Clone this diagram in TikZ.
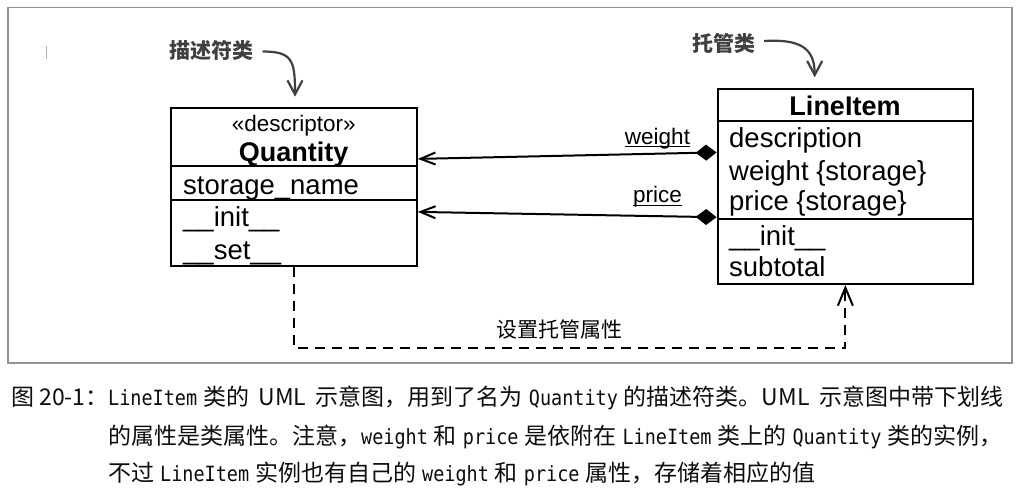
\documentclass[tikz,border=0pt]{standalone}
\usepackage{fontspec}
\setmainfont{Liberation Sans}
\newfontfamily\cjk{Noto Sans CJK SC}
\newfontfamily\cmono[FakeStretch=0.88]{DejaVu Sans Mono}
\usetikzlibrary{arrows.meta,calc}
\newcommand\gp{\hspace{6pt}}
\newcommand\gu{\hspace{9.5pt}}
\newcommand\cd[1]{{\cmono\fontsize{21}{24}\selectfont #1}}
\begin{document}
\begin{tikzpicture}[x=1pt,y=-1pt,
  umlbox/.style={draw, line width=2.2pt, inner sep=0pt},
  divider/.style={line width=2.2pt},
  boxtxt/.style={font=\fontsize{27.5}{30}\selectfont, inner sep=0pt, anchor=base west},
  boxtitle/.style={font=\fontsize{27}{30}\selectfont\bfseries, inner sep=0pt, anchor=base},
  stereo/.style={font=\fontsize{22.5}{26}\selectfont, inner sep=0pt, anchor=base},
  lbl/.style={font=\fontsize{22.5}{26}\selectfont, inner sep=0pt, anchor=base},
  uline/.style={line width=1.3pt},
  assoc/.style={line width=2pt, {Diamond[length=21pt,width=16pt]}-{Straight Barb[length=15pt,width=12pt]}},
  dep/.style={line width=2pt, dash pattern=on 10pt off 7pt, -{Straight Barb[length=18pt,width=15pt]}},
  ann/.style={font=\cjk\bfseries\fontsize{21}{24}\selectfont, text=black!75, inner sep=0pt},
  annarrow/.style={draw=black!75, line width=2.2pt, -{Straight Barb[length=14pt,width=15pt]}},
  deplbl/.style={font=\cjk\fontsize{21}{24}\selectfont, inner sep=0pt},
  captxt/.style={font=\cjk\fontsize{23}{26}\selectfont, text=black!95, inner sep=0pt, anchor=base west}
]
\useasboundingbox (0,0) rectangle (1023,493);
\fill[white] (0,0) rectangle (1023,493);
% frame
\draw[gray!85, line width=1.2pt] (8,7.5) rectangle (1012,363);
\draw[gray!60, line width=1pt] (46,46) -- (46,59);

% Quantity box
\node[umlbox, minimum width=246pt, minimum height=158pt] (qbox) at (293.7,187) {};
\draw[divider] ($(qbox.north west)+(0,59)$) -- ($(qbox.north east)+(0,59)$);
\draw[divider] ($(qbox.north west)+(0,93)$) -- ($(qbox.north east)+(0,93)$);
\node[stereo] (qst) at (293.7,131.7) {«descriptor»};
\node[boxtitle] (qname) at (293.7,161) {Quantity};
\node[boxtxt] (qattr) at (183,194.3) {storage\_name};
\node[boxtxt] (qinit) at (183,226.7) {\_\_init\_\_};
\node[boxtxt] (qset) at (183,259.3) {\_\_set\_\_};

% LineItem box
\node[umlbox, minimum width=255.3pt, minimum height=194.7pt] (lbox) at (845.35,186.65) {};
\draw[divider] ($(lbox.north west)+(0,32.4)$) -- ($(lbox.north east)+(0,32.4)$);
\draw[divider] ($(lbox.north west)+(0,130.7)$) -- ($(lbox.north east)+(0,130.7)$);
\node[boxtitle] (lname) at (845,115) {LineItem};
\node[boxtxt] (ldesc) at (729,147.3) {description};
\node[boxtxt] (lwt) at (729,180) {weight \{storage\}};
\node[boxtxt] (lpr) at (729,210.7) {price \{storage\}};
\node[boxtxt] (linit) at (729,245.7) {\_\_init\_\_};
\node[boxtxt] (lsub) at (729,276.7) {subtotal};

% associations
\coordinate (wA) at ($(lbox.north west)+(0,64.2)$);
\coordinate (wB) at ($(qbox.north east)+(0,52)$);
\coordinate (pA) at ($(lbox.north west)+(0,129)$);
\coordinate (pB) at ($(qbox.north east)+(0,105)$);
\draw[assoc] (wA) -- (wB);
\draw[assoc] (pA) -- (pB);
\node[lbl] (wl) at (657.5,144) {weight};
\draw[uline] ($(wl.base west)+(0,2.8)$) -- ($(wl.base east)+(0,2.8)$);
\node[lbl] (pl) at (657.5,202.7) {price};
\draw[uline] ($(pl.base west)+(0,3)$) -- ($(pl.base east)+(0,3)$);

% dependency
\coordinate (dy) at (0,348);
\draw[dep] (qbox.south) -- (qbox.south |- dy) -- (lbox.south |- dy) -- (lbox.south);
\node[deplbl] (dl) at (559,330) {设置托管属性};

% annotations
\node[ann] (a1) at (211.5,50) {描述符类};
\coordinate (t1) at (295,96.7);
\draw[annarrow] ($(a1.east)+(9,1.5)$) .. controls +(30,0) and +(0,-36) .. (t1);
\node[ann] (a2) at (723.5,43) {托管类};
\coordinate (t2) at (814.7,77.3);
\draw[annarrow] ($(a2.east)+(9,-2)$) .. controls +(35,-2) and +(0,-30) .. (t2);

% caption
\node[captxt] (c0) at (11,405.5) {图 20-1：};
\node[captxt] (c1) at (108,405.5) {\cd{LineItem}\gp 类的\gu UML\gu 示意图，用到了名为\gp\cd{Quantity}\gp 的描述符类。UML\gu 示意图中带下划线};
\node[captxt] (c2) at (108,444.5) {的属性是类属性。注意，\cd{weight}\gp 和\gp\cd{price}\gp 是依附在\gp\cd{LineItem}\gp 类上的\gp\cd{Quantity}\gp 类的实例，};
\node[captxt] (c3) at (108,481) {不过\gp\cd{LineItem}\gp 实例也有自己的\gp\cd{weight}\gp 和\gp\cd{price}\gp 属性，存储着相应的值};
\end{tikzpicture}
\end{document}
